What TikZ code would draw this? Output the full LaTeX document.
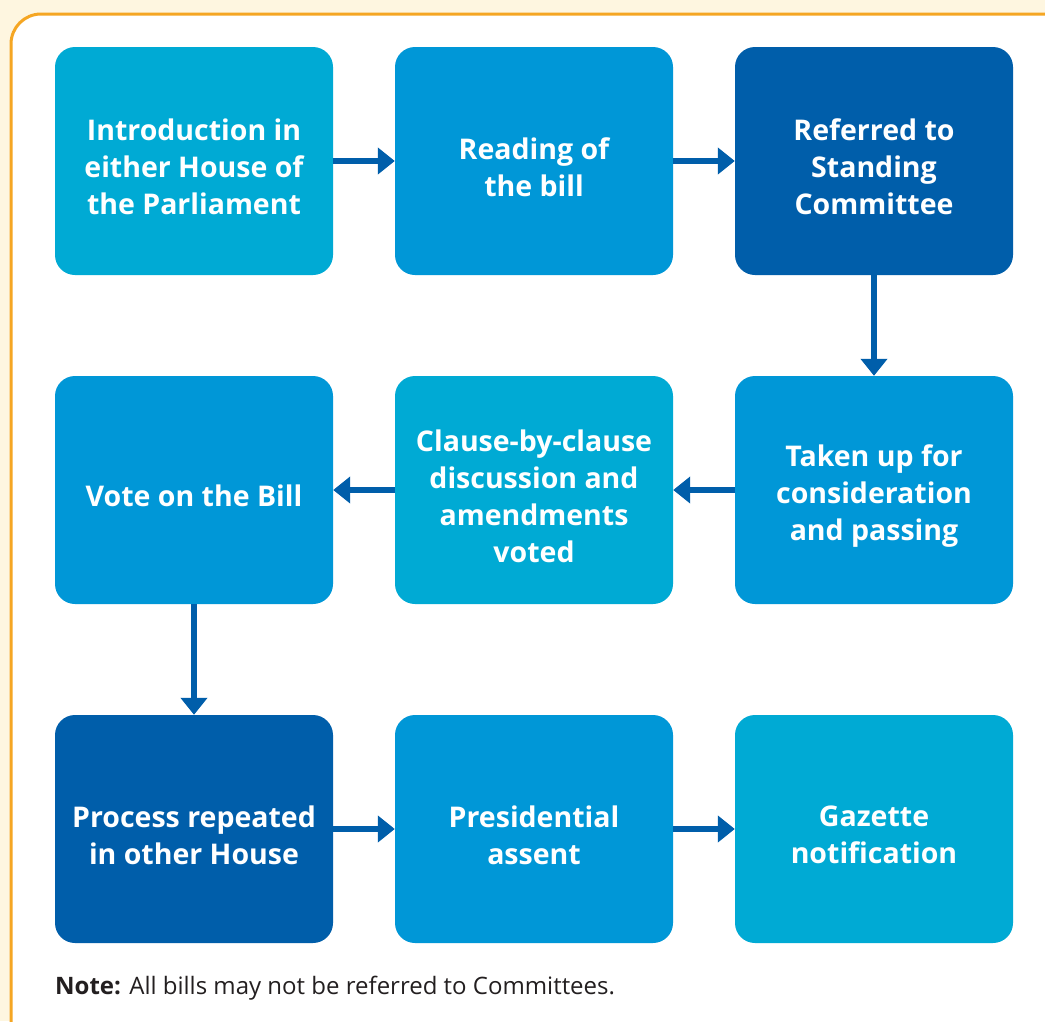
\documentclass[tikz,border=0pt]{standalone}
\usepackage{fontspec}
\setmainfont{Open Sans}
\usetikzlibrary{arrows.meta}
\definecolor{cream}{HTML}{FEF6E0}
\definecolor{frameorange}{HTML}{F5A623}
\definecolor{lightblue}{HTML}{00AAD4}
\definecolor{midblue}{HTML}{0097D7}
\definecolor{darkblue}{HTML}{005EAA}
\definecolor{notegray}{HTML}{231F20}
% stage text, set a little below the box centre
\newcommand\stagetext[1]{\parbox{270pt}{\vspace*{12pt}\centering #1}}

\begin{document}
\begin{tikzpicture}[x=1pt,y=-1pt]
    \tikzstyle{every node}=[font=\fontsize{28.5}{37}\selectfont\bfseries]
    \tikzstyle{stage}=[rounded corners=20pt,minimum width=278pt,minimum height=228pt,align=center,text=white,inner sep=0pt]
    \tikzstyle{light stage}=[stage, fill=lightblue]
    \tikzstyle{mid stage}=[stage, fill=midblue]
    \tikzstyle{dark stage}=[stage, fill=darkblue]
    \tikzstyle{flow}=[draw=darkblue,line width=6pt,-{Triangle[width=26pt,length=17pt]}]
    \tikzstyle{note}=[font=\fontsize{24}{28}\selectfont,text=notegray,anchor=west,inner sep=0pt]

    % Page and frame
    \useasboundingbox (0,0) rectangle (1045,1021);
    \fill[cream] (0,0) rectangle (1045,1021);
    \filldraw[fill=white,draw=frameorange,line width=3pt,rounded corners=30pt] (11,14) rectangle (1080,1060);

    % First row
    \node[light stage] (S-1) at (194,161) {\stagetext{Introduction in\\either House of\\the Parliament}};
    \node[mid stage] (S-2) at (534,161) {\stagetext{Reading of\\the bill}};
    \node[dark stage] (S-3) at (874,161) {\stagetext{Referred to\\Standing\\Committee}};

    % Second row (right to left)
    \node[mid stage] (S-4) at (874,490) {\stagetext{Taken up for\\consideration\\and passing}};
    \node[light stage] (S-5) at (534,490) {\stagetext{Clause-by-clause\\discussion and\\amendments\\voted}};
    \node[mid stage] (S-6) at (194,490) {\stagetext{Vote on the Bill}};

    % Third row
    \node[dark stage] (S-7) at (194,829) {\stagetext{Process repeated\\in other House}};
    \node[mid stage] (S-8) at (534,829) {\stagetext{Presidential\\assent}};
    \node[light stage] (S-9) at (874,829) {\stagetext{Gazette\\notification}};

    % Connect the stages in order
    \draw[flow] (S-1) -- (S-2);
    \draw[flow] (S-2) -- (S-3);
    \draw[flow] (S-3) -- (S-4);
    \draw[flow] (S-4) -- (S-5);
    \draw[flow] (S-5) -- (S-6);
    \draw[flow] (S-6) -- (S-7);
    \draw[flow] (S-7) -- (S-8);
    \draw[flow] (S-8) -- (S-9);

    % Footnote
    \node[note] (note) at (55,988) {\textbf{Note:} All bills may not be referred to Committees.};
\end{tikzpicture}
\end{document}
